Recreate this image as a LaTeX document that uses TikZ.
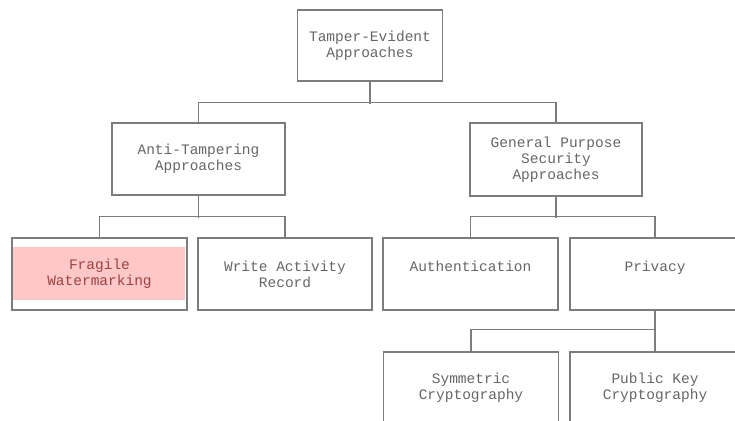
\documentclass[tikz,border=0pt]{standalone}
\usepackage{fontspec}
\setmonofont{Liberation Mono}
\usetikzlibrary{backgrounds}

\definecolor{boxgray}{HTML}{7C7C7C}
\definecolor{textgray}{HTML}{666666}
\definecolor{fragpink}{HTML}{FFC8C8}

\tikzset{
  tbox/.style={draw=boxgray, line width=1.1pt, inner sep=0pt, align=center,
    font=\ttfamily\fontsize{14.5}{16}\selectfont, text=textgray},
  oneline/.style={text depth=16pt},
  link/.style={boxgray, line width=1.1pt}
}

\begin{document}
\begin{tikzpicture} [x=1pt, y=-1pt]
\useasboundingbox (0,0) rectangle (735,420);
\clip (0,0) rectangle (735,420);

\path (370,45.5) node[tbox, minimum width=145pt, minimum height=71pt] (top) {Tamper-Evident\\Approaches}

      (198.5,159) node[tbox, minimum width=173pt, minimum height=72pt] (anti) {Anti-Tampering\\Approaches}
      (556,159.5) node[tbox, minimum width=172pt, minimum height=73pt] (gen) {General Purpose\\Security\\Approaches}

      (99.5,274) node[tbox, minimum width=175pt, minimum height=72pt, text=red!35!textgray] (frag) {Fragile\\Watermarking}
      (285,274) node[tbox, minimum width=174pt, minimum height=72pt] (write) {Write Activity\\Record}
      (470.5,274) node[tbox, oneline, minimum width=175pt, minimum height=72pt] (auth) {Authentication}
      (655,274) node[tbox, oneline, minimum width=170pt, minimum height=72pt] (priv) {Privacy}

      (471,388) node[tbox, minimum width=175pt, minimum height=72pt] (sym) {Symmetric\\Cryptography}
      (655,388) node[tbox, minimum width=170pt, minimum height=72pt] (pub) {Public Key\\Cryptography};

\begin{scope}[on background layer]
  \fill[fragpink] (12,247) rectangle (185,300);
\end{scope}

\draw[link] (top.south) -- ++(0,22);
\draw[link] (anti.north) -- ++(0,-20) -| (gen.north);

\draw[link] (anti.south) -- ++(0,22);
\draw[link] (frag.north) -- ++(0,-21) -| (write.north);

\draw[link] (gen.south) -- ++(0,21);
\draw[link] (auth.north) -- ++(0,-21) -| (priv.north);

\draw[link] (priv.south) -- ++(0,20);
\draw[link] (sym.north) -- ++(0,-22) -| (pub.north);

\end{tikzpicture}
\end{document}
